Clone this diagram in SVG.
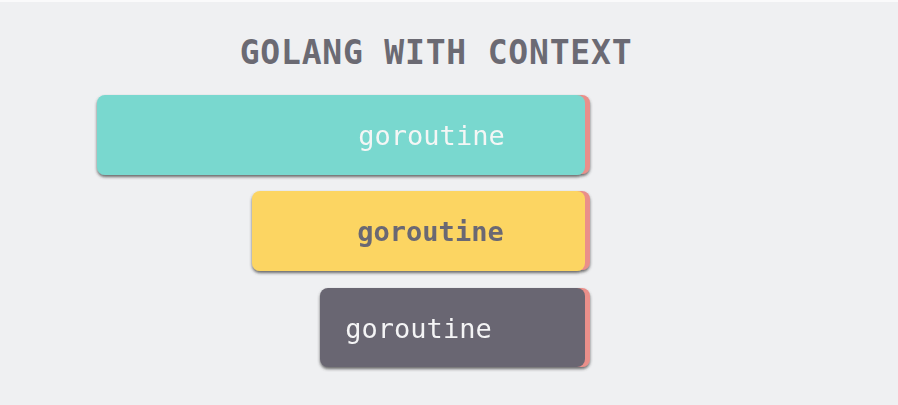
<svg xmlns="http://www.w3.org/2000/svg" width="898" height="405" viewBox="0 0 898 405">
  <defs>
    <filter id="sh" x="-5%" y="-20%" width="110%" height="150%">
      <feDropShadow dx="0" dy="2" stdDeviation="1.5" flood-color="#3a3a3a" flood-opacity="0.75"/>
    </filter>
    <style>
      .title { font-family: "DejaVu Sans Mono", "Liberation Mono", monospace; font-weight: bold; font-size: 33px; letter-spacing: 0.8px; fill: #6b6a73; }
      .lbl { font-family: "DejaVu Sans Mono", "Liberation Mono", monospace; font-size: 27px; }
      .red { fill: #ea8f8a; }
    </style>
  </defs>
  <rect x="0" y="0" width="898" height="405" fill="#fafafb"/>
  <rect x="0" y="2" width="898" height="403" fill="#eff0f2"/>
  <text class="title" x="436" y="64" text-anchor="middle">GOLANG WITH CONTEXT</text>

  <g id="goroutine1" filter="url(#sh)">
    <rect class="red" x="102" y="95" width="488" height="79" rx="8"/>
    <rect x="97" y="95" width="488" height="80" rx="8" fill="#79d8cf"/>
    <text class="lbl" x="431.5" y="145" text-anchor="middle" fill="#f4f6f5">goroutine</text>
  </g>
  <g id="goroutine2" filter="url(#sh)">
    <rect class="red" x="257" y="191" width="333" height="79" rx="8"/>
    <rect x="252" y="191" width="333" height="80" rx="8" fill="#fcd562"/>
    <text class="lbl" x="430.5" y="241" text-anchor="middle" fill="#6a6873" font-weight="bold">goroutine</text>
  </g>
  <g id="goroutine3" filter="url(#sh)">
    <rect class="red" x="325" y="288" width="265" height="79" rx="8"/>
    <rect x="320" y="288" width="265" height="79" rx="8" fill="#696672"/>
    <text class="lbl" x="418.5" y="338" text-anchor="middle" fill="#f4f4f5">goroutine</text>
  </g>
</svg>
